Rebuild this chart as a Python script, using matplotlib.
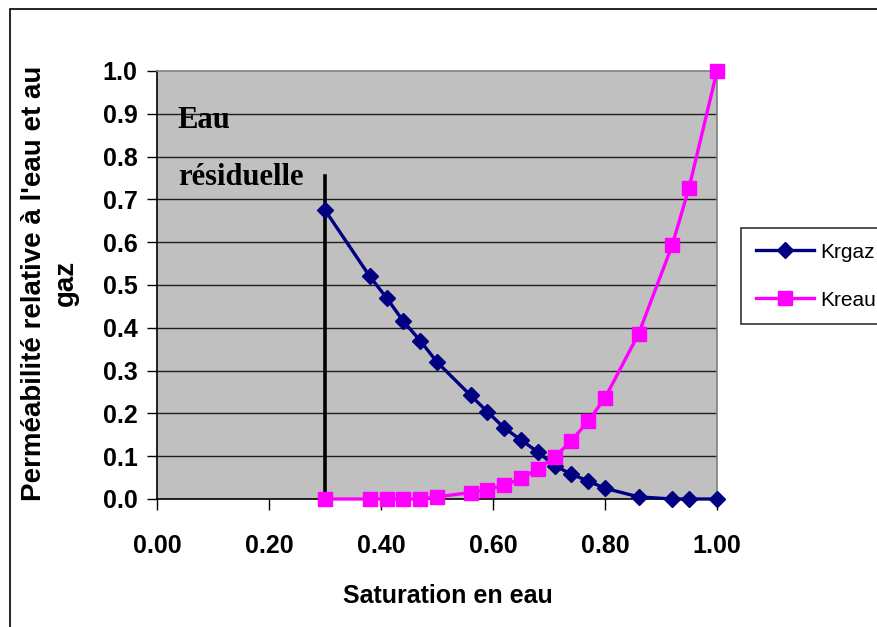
import matplotlib.pyplot as plt
from matplotlib.patches import Rectangle

# Saturation en eau et perméabilités relatives
sw = [0.30, 0.38, 0.41, 0.44, 0.47, 0.50, 0.56, 0.59, 0.62, 0.65, 0.68,
      0.71, 0.74, 0.77, 0.80, 0.86, 0.92, 0.95, 1.00]
krgaz = [0.675, 0.52, 0.47, 0.415, 0.37, 0.32, 0.242, 0.204, 0.166, 0.138, 0.110,
         0.078, 0.058, 0.042, 0.025, 0.005, 0.0, 0.0, 0.0]
kreau = [0.0, 0.0, 0.0, 0.0, 0.0, 0.005, 0.015, 0.022, 0.032, 0.048, 0.070,
         0.098, 0.136, 0.182, 0.236, 0.386, 0.593, 0.727, 1.0]

sw_residuelle = 0.30
hauteur_trait = 0.755

fig = plt.figure(figsize=(8.77, 6.27), dpi=100)
ax = fig.add_axes([157 / 877, 1 - 499 / 627, 560 / 877, 428 / 627])
ax.set_facecolor('#C0C0C0')

# cadre du graphique
fig.patches.append(Rectangle((10 / 877, -0.1), 1.2, 1 - 9 / 627 + 0.1,
                             transform=fig.transFigure, fill=False,
                             edgecolor='black', lw=1.2))

for y in [0.1 * i for i in range(1, 10)]:
    ax.axhline(y, color='#202020', lw=1.0, zorder=1)

ax.plot([sw_residuelle, sw_residuelle], [0, hauteur_trait], color='black', lw=2.6, zorder=2)

ax.plot(sw, krgaz, color='#000080', lw=2.4, marker='D', ms=8, label='Krgaz',
        zorder=3, clip_on=False)
ax.plot(sw, kreau, color='#FF00FF', lw=2.4, marker='s', ms=10, label='Kreau',
        zorder=3, clip_on=False)

ax.set_xlim(0, 1)
ax.set_ylim(0, 1)
ax.set_xticks([0, 0.2, 0.4, 0.6, 0.8, 1.0])
ax.set_yticks([0.1 * i for i in range(11)])
ax.set_xticklabels(['%.2f' % v for v in ax.get_xticks()])
ax.set_yticklabels(['%.1f' % v for v in ax.get_yticks()])
for lab in ax.get_xticklabels() + ax.get_yticklabels():
    lab.set_family('Liberation Sans')
    lab.set_fontweight('bold')
    lab.set_fontsize(18)
ax.tick_params(axis='x', direction='out', length=8, width=1, pad=17)
ax.tick_params(axis='y', direction='out', length=7, width=1, pad=7)

ax.spines['left'].set_color('black')
ax.spines['bottom'].set_color('black')
ax.spines['top'].set_color('#808080')
ax.spines['right'].set_color('#808080')
for s in ax.spines.values():
    s.set_linewidth(1.2)

ax.text(0.037, 0.885, 'Eau', family='Liberation Serif', fontweight='bold',
        fontsize=22, va='center', ha='left')
ax.text(0.037, 0.752, 'résiduelle', family='Liberation Serif', fontweight='bold',
        fontsize=22, va='center', ha='left')

fig.text(448 / 877, 1 - 596 / 627, 'Saturation en eau', family='Liberation Sans',
         fontweight='bold', fontsize=18, ha='center', va='center')
fig.text(50 / 877, 1 - 283 / 627, "Perméabilité relative à l'eau et au\ngaz",
         family='Liberation Sans', fontweight='bold', fontsize=20,
         rotation=90, ha='center', va='center', multialignment='center',
         linespacing=1.25)

leg = ax.legend(loc='upper left', bbox_to_anchor=(741 / 877, 1 - 228 / 627),
                bbox_transform=fig.transFigure, frameon=True, fancybox=False,
                prop={'family': 'Liberation Sans', 'size': 15},
                handlelength=2.8, handletextpad=0.3, borderpad=0.7,
                labelspacing=1.4, borderaxespad=0)
leg.get_frame().set_edgecolor('black')
leg.get_frame().set_linewidth(1.2)

fig.savefig('out.png', dpi=100)
